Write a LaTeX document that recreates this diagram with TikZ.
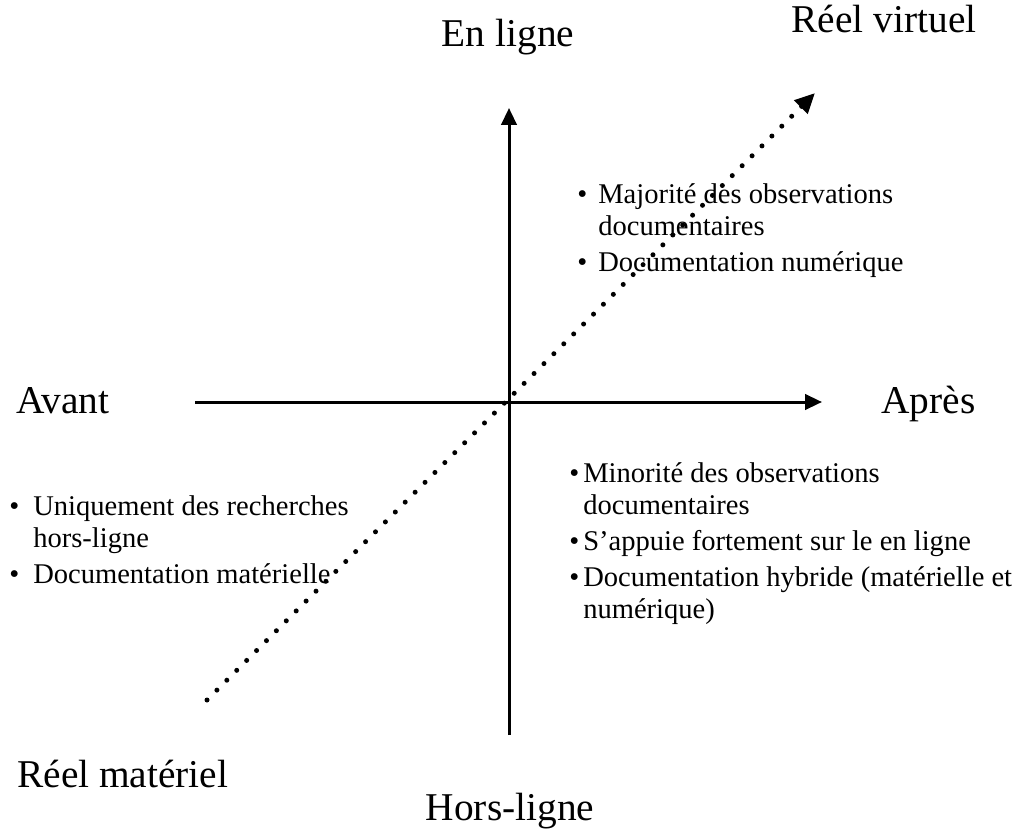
\documentclass[tikz,border=0pt]{standalone}
\usepackage{fontspec}
\setmainfont{Liberation Serif}
\usetikzlibrary{arrows.meta}
\tikzset{
  axis/.style={line width=0.075cm, -{Triangle[length=0.42cm,width=0.38cm]}},
  dotline/.style={line width=0.125cm, line cap=round, dash pattern=on 0pt off 0.35cm, -{Triangle[length=0.5cm,width=0.45cm]}},
  big/.style={inner sep=0pt, font=\fontsize{28}{32}\selectfont},
  list/.style={inner sep=0pt, anchor=base west, align=left, font=\fontsize{20.3}{22.8}\selectfont},
}
\begin{document}
\begin{tikzpicture}[x=0.025cm, y=-0.025cm]
\useasboundingbox (0,0) rectangle (1018,834);
\def\gap{2.8pt}
\node[big, anchor=base] (online) at (508,47) {En ligne};
\node[big, anchor=base] (virtual) at (884,33) {Réel virtuel};
\node[big, anchor=base west] (before) at (16,413) {Avant};
\node[big, anchor=base west] (after) at (881,413) {Après};
\node[big, anchor=base west] (material) at (17,787) {Réel matériel};
\node[big, anchor=base] (offline) at (510,820) {Hors-ligne};

% quadrant texts
\node[list] (upright) at (577,203) {\begin{tabular}[t]{@{}p{0.525cm}@{}l@{}}
\textbullet & Majorité des observations\\
 & documentaires\\[\gap]
\textbullet & Documentation numérique
\end{tabular}};
\node[list] (downright) at (569,482) {\begin{tabular}[t]{@{}p{0.35cm}@{}l@{}}
\textbullet & Minorité des observations\\
 & documentaires\\[\gap]
\textbullet & S’appuie fortement sur le en ligne\\[\gap]
\textbullet & Documentation hybride (matérielle et\\
 & numérique)
\end{tabular}};
\node[list] (downleft) at (9,515) {\begin{tabular}[t]{@{}p{0.6cm}@{}l@{}}
\textbullet & Uniquement des recherches\\
 & hors-ligne\\[\gap]
\textbullet & Documentation matérielle
\end{tabular}};

% axes
\coordinate (xstart) at (195,402);
\coordinate (xend) at (822,402);
\coordinate (ystart) at (509,735);
\coordinate (yend) at (509,108);
\coordinate (dstart) at (207,700);
\coordinate (dend) at (815,93);
\path[axis] (xstart) edge (xend); % avant to apres
\path[axis] (ystart) edge (yend); % hors-ligne to en ligne
\path[dotline] (dstart) edge (dend); % materiel to virtuel
\end{tikzpicture}
\end{document}
